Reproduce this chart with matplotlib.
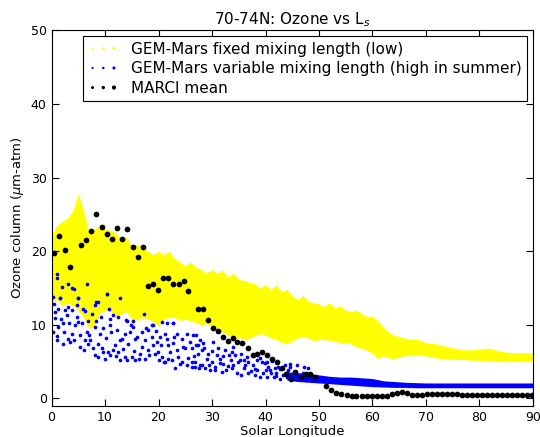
import matplotlib
matplotlib.use("Agg")
import matplotlib.pyplot as plt
from matplotlib.legend_handler import HandlerPathCollection

# --- GEM-Mars fixed mixing length: envelope of the model spread vs Ls ---
fixed_ls = list(range(0, 91))
fixed_hi = [22.0, 23.5, 24.0, 24.5, 25.5, 27.8, 25.5, 22.5, 23.0, 23.5,
            23.0, 22.8, 22.5, 21.5, 22.0, 20.5, 21.0, 20.5, 20.0, 19.5,
            20.0, 19.5, 20.0, 19.0, 18.5, 18.0, 18.5, 17.8, 17.5, 17.0,
            17.5, 17.0, 17.4, 16.5, 17.0, 16.2, 16.0, 15.8, 15.6, 15.0,
            15.5, 14.8, 15.4, 14.5, 14.8, 14.0, 13.4, 14.0, 13.2, 13.0,
            12.8, 12.5, 13.0, 12.3, 12.6, 12.0, 11.8, 12.0, 11.5, 11.1,
            11.2, 10.5, 9.7, 9.0, 8.6, 8.4, 8.2, 8.0, 8.1, 7.9,
            7.6, 7.5, 7.4, 7.2, 7.0, 6.9, 6.7, 6.6, 6.6, 6.6,
            6.7, 6.8, 6.8, 6.6, 6.4, 6.3, 6.2, 6.2, 6.2, 6.2, 6.2]
fixed_lo = [13.0, 13.5, 12.5, 13.0, 12.5, 12.0, 11.0, 9.5, 9.8, 11.5,
            12.0, 11.8, 11.0, 11.5, 11.8, 10.8, 10.6, 11.0, 10.8, 10.5,
            9.8, 10.8, 11.0, 11.0, 10.6, 10.8, 10.5, 10.3, 10.0, 10.2,
            9.6, 9.2, 9.0, 8.6, 8.0, 8.3, 8.0, 8.2, 8.5, 8.8,
            8.6, 8.2, 8.0, 7.6, 7.4, 7.8, 8.2, 8.4, 8.2, 7.8,
            8.0, 8.0, 7.9, 7.8, 7.5, 7.6, 7.4, 7.0, 6.8, 6.5,
            6.1, 5.4, 5.8, 5.5, 5.4, 5.6, 5.8, 5.8, 5.9, 5.8,
            5.8, 5.6, 5.5, 5.4, 5.4, 5.3, 5.3, 5.3, 5.2, 5.2,
            5.2, 5.1, 5.1, 5.1, 5.0, 5.0, 5.0, 5.0, 5.0, 5.0, 5.0]

# --- GEM-Mars variable mixing length: scattered samples (early season) ---
var_ls = [0.34, 0.97, 1.09, 1.59, 2.0, 3.15, 3.77, 4.27, 5.0, 6.6, 8.4, 10.3,
          10.8, 12.8, 14.2, 18.7, 21.5, 22.8, 25.3, 27.1,
          0.53, 1.59, 3.15, 4.7, 5.0, 6.26, 7.5, 8.1, 8.75, 10.3, 11.56,
          12.37, 13.9, 15.3, 17.2, 19.0, 20.6, 22.8,
          0.65, 1.28, 2.21, 2.83, 3.77, 4.4, 5.0, 5.64, 6.6, 7.2, 8.1, 9.07,
          9.7, 10.9, 11.2, 12.2, 13.1, 13.7, 14.7, 15.3, 15.6, 16.9, 17.5,
          18.1, 18.7, 19.7, 20.3, 21.2, 21.8, 22.8, 23.4, 24.3, 25.0, 26.2,
          27.1, 28.1,
          0.97, 2.2, 3.46, 5.33, 6.26, 6.9, 8.1, 8.75, 9.7, 10.0, 10.9,
          11.56, 12.5, 12.8, 14.05, 15.0, 15.6, 16.5, 17.5, 18.1, 19.3,
          20.0, 20.6, 21.2, 21.8, 22.5, 23.1, 23.7, 24.3, 25.3, 26.2, 26.8,
          27.5, 28.1,
          0.3, 0.6, 1.0, 1.3, 1.8, 2.4, 2.6, 3.0, 3.3, 3.9, 4.2, 4.8, 5.3,
          5.8, 6.0, 6.8, 7.0, 7.7, 8.3, 8.6, 9.2, 9.5, 10.2, 10.6, 11.0,
          11.8, 12.0, 12.8, 13.3, 13.8, 14.3, 14.9, 15.4, 16.0, 16.4, 17.0,
          17.7, 18.3, 18.9, 19.5, 19.9, 20.5, 21.0, 21.6, 22.2, 22.9, 23.5,
          24.0, 24.6, 25.5, 25.9, 26.6, 27.3, 27.8,
          26.5, 27.4, 28.4, 29.3, 30.25, 31.2, 31.5, 32.1, 33.1, 33.7, 34.3,
          35.2, 35.9, 36.8, 37.7, 38.4, 39.3, 39.9, 40.5, 40.85, 41.8, 42.4,
          43.6, 44.6,
          26.2, 26.8, 27.8, 28.7, 29.6, 30.6, 31.8, 32.7, 33.7, 34.6, 35.5,
          36.8, 38.0, 39.0, 40.2, 41.5, 42.7, 44.0,
          30.0, 32.0, 34.0, 36.0, 38.0, 40.0, 42.0, 44.0,
          28.5, 29.0, 29.5, 30.0, 30.5, 31.0, 31.5, 32.5, 33.0, 33.5, 34.0,
          34.8, 35.5, 36.2, 36.5, 37.2, 37.8, 38.5, 39.0, 39.6, 40.2, 41.0,
          41.3, 42.0, 42.8, 43.3, 44.2, 45.0, 45.5, 46.3, 47.0, 47.6, 48.5,
          44.5, 45.8, 47.2, 48.0]
var_oz = [13.8, 16.9, 16.3, 13.6, 15.1, 15.6, 15.0, 14.9, 13.7, 15.5, 13.1, 14.2,
          12.2, 13.7, 10.5, 10.0, 10.2, 10.3, 8.8, 8.6,
          12.8, 13.58, 12.45, 12.67, 13.7, 11.9, 11.5, 12.7, 13.1, 14.2, 11.3,
          11.1, 10.6, 10.5, 11.5, 9.95, 10.4, 10.2,
          10.86, 9.73, 10.2, 11.3, 8.8, 9.95, 10.4, 10.2, 9.05, 7.9, 9.7, 8.8,
          9.5, 9.95, 9.05, 9.3, 8.14, 8.8, 9.05, 9.7, 8.14, 9.05, 7.9,
          9.3, 8.4, 7.7, 8.4, 8.8, 7.2, 7.5, 8.8, 8.1, 6.8, 6.8,
          7.2, 6.56,
          7.9, 7.46, 7.7, 7.0, 7.9, 7.46, 5.9, 5.65, 6.3, 5.4, 5.9,
          6.56, 6.33, 5.2, 5.2, 5.65, 5.2, 6.1, 5.4, 6.56, 6.1,
          5.2, 5.65, 5.0, 5.4, 5.2, 4.07, 5.65, 5.0, 4.5, 4.3, 5.0,
          4.07, 4.5,
          9.0, 11.8, 8.5, 12.2, 10.8, 9.0, 12.0, 8.1, 10.3, 12.0, 7.9, 11.0, 8.6,
          12.2, 6.6, 10.5, 8.6, 6.9, 10.5, 7.4, 11.0, 6.9, 8.2, 6.3, 10.8,
          7.2, 5.8, 8.0, 6.7, 5.6, 7.4, 10.0, 6.4, 8.3, 5.4, 7.0,
          9.6, 5.9, 7.3, 9.2, 6.3, 7.2, 4.9, 8.1, 6.3, 8.3, 6.6,
          4.7, 7.0, 5.5, 7.7, 5.8, 6.1, 7.9,
          8.6, 7.2, 7.5, 6.1, 7.7, 6.8, 5.4, 5.7, 5.9, 6.3, 5.9,
          5.2, 5.2, 5.0, 4.5, 5.2, 5.0, 4.75, 4.3, 3.85, 4.1, 4.3,
          4.5, 4.3,
          5.0, 4.3, 4.5, 4.07, 3.85, 3.85, 3.6, 3.85, 4.07, 3.4, 3.2,
          3.4, 3.2, 2.94, 2.94, 2.94, 2.7, 2.94,
          5.0, 4.7, 4.6, 4.2, 4.0, 3.8, 3.5, 3.4,
          6.9, 5.3, 4.6, 6.4, 4.3, 5.9, 4.8, 6.6, 4.4, 5.2, 7.0,
          4.9, 6.0, 4.5, 5.6, 3.7, 5.9, 3.9, 5.5, 3.5, 4.9, 3.4,
          5.1, 3.1, 4.0, 3.2, 3.9, 2.8, 3.5, 2.6, 3.4, 2.5, 3.2,
          4.7, 4.5, 4.3, 4.1]

# --- GEM-Mars variable mixing length: narrow band later in the season ---
band_ls = [44, 46, 48, 50, 52, 54, 56, 58, 60, 62, 64, 66, 68, 70, 75, 80, 85, 90]
band_hi = [3.6, 3.5, 3.4, 3.2, 3.0, 2.9, 2.9, 2.8, 2.7, 2.4, 2.3, 2.2, 2.15,
           2.1, 2.1, 2.1, 2.1, 2.1]
band_lo = [2.5, 2.3, 2.2, 2.1, 2.0, 1.9, 1.8, 1.7, 1.6, 1.55, 1.5, 1.5, 1.45,
           1.45, 1.45, 1.45, 1.45, 1.45]

# --- MARCI mean ozone column ---
marci_ls = [0.47, 1.46, 2.52, 3.52, 5.45, 6.45, 7.38, 8.38, 9.38, 10.37,
            11.3, 12.3, 13.2, 14.2, 15.2, 16.1, 17.1, 18.0, 19.0, 19.9,
            20.9, 21.8, 22.8, 23.8, 24.7, 25.6, 27.4, 28.3, 29.25, 30.2,
            31.1, 32.0, 32.9, 33.9, 34.7, 35.7, 36.7, 37.6, 38.4, 39.3,
            40.3, 41.2, 42.1, 43.0, 43.8, 44.7, 45.6, 46.6, 47.5, 48.3,
            49.25, 51.3, 52.2, 53.2, 54.2, 55.2, 56.1, 57.0, 58.0, 58.9,
            59.9, 60.8, 61.8, 62.7, 63.6, 64.6, 65.5, 66.4, 67.4, 68.3,
            69.2, 70.2, 71.1, 72.0, 73.0, 73.9, 74.8, 75.8, 76.7, 77.6,
            78.6, 79.5, 80.4, 81.4, 82.3, 83.2, 84.2, 85.1, 86.0, 87.0,
            87.9, 88.8, 89.75]
marci_oz = [19.8, 22.1, 20.2, 17.9, 20.8, 21.5, 22.7, 25.1, 23.3, 22.3,
            21.7, 23.1, 21.6, 23.0, 20.6, 19.2, 20.5, 15.3, 15.6, 14.7,
            16.4, 16.4, 15.6, 15.5, 16.0, 14.6, 12.2, 12.1, 10.6, 9.5,
            9.1, 8.4, 7.8, 8.15, 7.7, 7.5, 6.9, 5.9, 6.0, 6.3,
            5.9, 5.3, 5.0, 4.1, 3.3, 2.7, 3.6, 2.85, 3.3, 3.3,
            2.9, 1.7, 1.1, 0.8, 0.6, 0.45, 0.35, 0.3, 0.3, 0.3,
            0.3, 0.3, 0.3, 0.35, 0.55, 0.8, 0.85, 0.8, 0.5, 0.5,
            0.5, 0.55, 0.55, 0.6, 0.6, 0.6, 0.55, 0.55, 0.5, 0.5,
            0.45, 0.45, 0.45, 0.4, 0.4, 0.4, 0.4, 0.4, 0.4, 0.4,
            0.4, 0.45, 0.45]

x_ticks = [0, 10, 20, 30, 40, 50, 60, 70, 80, 90]
y_ticks = [0, 10, 20, 30, 40, 50]

fig = plt.figure(figsize=(5.4, 4.37), dpi=100)
ax = fig.add_axes([0.0954, 0.0714, 0.8916, 0.8593])

ax.fill_between(fixed_ls, fixed_lo, fixed_hi, color="yellow", lw=0, zorder=1)
ax.fill_between(band_ls, band_lo, band_hi, color="blue", lw=0, zorder=2)
ax.scatter(var_ls, var_oz, s=7, c="blue", linewidths=0, zorder=2)
ax.scatter(marci_ls, marci_oz, s=17, c="black", linewidths=0, zorder=3)

# legend entries drawn as dot triplets
h_fixed = ax.scatter([], [], c="yellow", linewidths=0,
                     label="GEM-Mars fixed mixing length (low)")
h_var = ax.scatter([], [], c="blue", linewidths=0,
                   label="GEM-Mars variable mixing length (high in summer)")
h_marci = ax.scatter([], [], c="black", linewidths=0, label="MARCI mean")
leg = ax.legend(handles=[h_fixed, h_var, h_marci], loc="upper right",
                scatterpoints=3, scatteryoffsets=[0.5], fontsize=11,
                fancybox=False, framealpha=1, edgecolor="black",
                borderaxespad=0.4, labelspacing=0.3, handletextpad=0.8,
                borderpad=0.35,
                handler_map={
                    h_fixed: HandlerPathCollection(sizes=[2.5, 3.2, 5]),
                    h_var: HandlerPathCollection(sizes=[2.5, 3.2, 5]),
                    h_marci: HandlerPathCollection(sizes=[4.5, 6, 9]),
                })
leg.get_frame().set_linewidth(0.8)

ax.set_xlim(0, 90)
ax.set_ylim(-1, 50)
ax.set_xticks(x_ticks)
ax.set_yticks(y_ticks)
ax.tick_params(direction="in", top=True, right=True, length=5, labelsize=9)
ax.set_xlabel("Solar Longitude", fontsize=9.5, labelpad=1)
ax.set_ylabel("Ozone column ($\\mu$m-atm)", fontsize=9.5, labelpad=3)
ax.set_title("70-74N: Ozone vs L$_s$", fontsize=11, pad=4)

fig.savefig("out.png", dpi=100)
